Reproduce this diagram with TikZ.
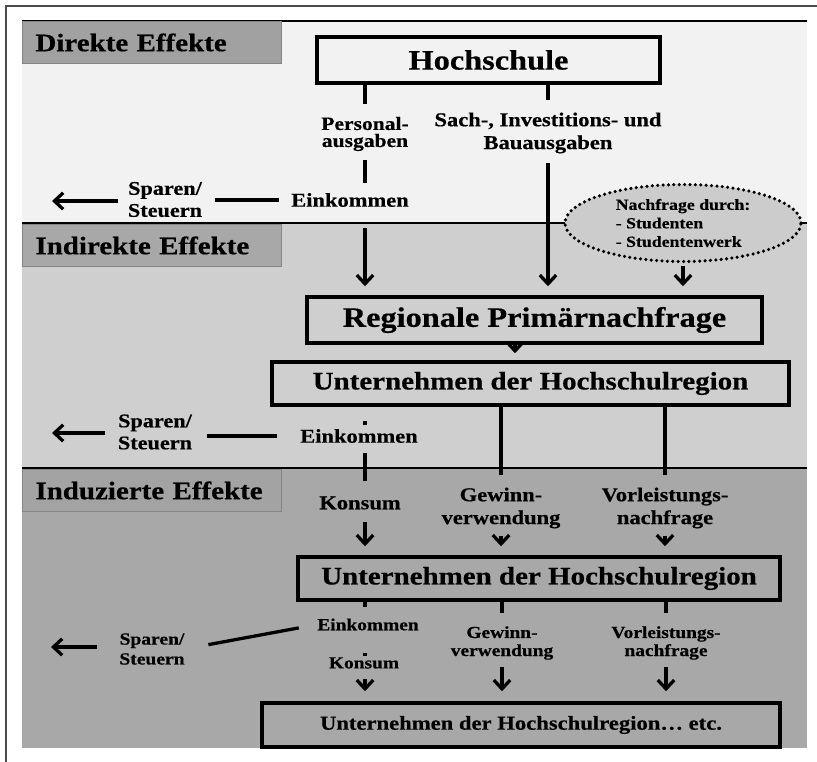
\documentclass[tikz,border=0pt]{standalone}
\usepackage{fontspec}
\setmainfont{Liberation Serif}[FakeStretch=1.15,BoldFeatures={FakeBold=0.5}]
\usetikzlibrary{arrows.meta,shapes.geometric}
\definecolor{bgdir}{gray}{0.95}
\definecolor{bgind}{gray}{0.81}
\definecolor{bginz}{gray}{0.66}
\definecolor{ttdir}{gray}{0.63}
\definecolor{ttind}{gray}{0.66}
\definecolor{ttinz}{gray}{0.64}
\definecolor{ttline}{gray}{0.52}
\definecolor{ellfill}{gray}{0.8}
\definecolor{frame}{gray}{0.3}
\begin{document}
\begin{tikzpicture}[x=0.03cm,y=-0.03cm,
    every node/.style={font=\bfseries},
    box/.style={draw,line width=3pt,inner sep=0pt},
    title/.style={anchor=north west,draw=ttline,line width=0.8pt,minimum width=7.77cm,
        minimum height=1.26cm,text width=6.99cm,inner xsep=0.39cm,inner ysep=0pt,align=left,
        font=\fontsize{21.5}{21.5}\selectfont\bfseries},
    lab/.style={inner sep=0pt,align=center,font=\fontsize{16.7}{19.5}\selectfont\bfseries},
    labs/.style={inner sep=0pt,align=center,font=\fontsize{14.4}{15.4}\selectfont\bfseries},
    con/.style={line width=2.8pt},
    arr/.style={con,-{Straight Barb[length=7.5pt,width=14pt]}}]

    \useasboundingbox (0,0) rectangle (817,762);

    %3 bands
    \fill[bgdir] (22,21) rectangle (807,223);
    \fill[bgind] (22,223) rectangle (807,468);
    \fill[bginz] (22,468) rectangle (807,748);
    \draw[line width=1.6pt] (22,21) -- (807,21);
    \draw[line width=1.3pt] (22,223) -- (807,223);
    \draw[line width=1.3pt] (22,468) -- (807,468);
    \draw[frame,line width=1pt] (6,762) -- (6,6) -- (817,6);

    \node[title,fill=ttdir] (tdir) at (22,21) {Direkte Effekte};
    \node[title,fill=ttind] (tind) at (22,224) {Indirekte Effekte};
    \node[title,fill=ttinz] (tinz) at (22,469) {Induzierte Effekte};

    %boxes
    \node[box,minimum width=10.29cm,minimum height=1.38cm,font=\fontsize{24}{24}\selectfont\bfseries] (hs) at (488.5,60) {Hochschule};
    \node[box,minimum width=13.65cm,minimum height=1.38cm,font=\fontsize{24}{24}\selectfont\bfseries] (rp) at (534.5,320) {Regionale Primärnachfrage};
    \node[box,minimum width=15.51cm,minimum height=1.29cm,font=\fontsize{21.5}{21.5}\selectfont\bfseries] (u1) at (530.5,383.5) {Unternehmen der Hochschulregion};
    \node[box,minimum width=14.46cm,minimum height=1.29cm,font=\fontsize{21.5}{21.5}\selectfont\bfseries] (u2) at (539,578.5) {Unternehmen der Hochschulregion};
    \node[box,minimum width=15.54cm,minimum height=1.32cm,font=\fontsize{16.8}{16.8}\selectfont\bfseries] (bt) at (521,725) {Unternehmen der Hochschulregion… etc.};

    %labels
    \node[lab,font=\fontsize{16}{14.5}\selectfont\bfseries] (pa) at (365,134) {Personal-\\ausgaben};
    \node[lab] (sa) at (548,133) {Sach-, Investitions- und\\Bauausgaben};
    \node[lab] (ek1) at (350,200) {Einkommen};
    \node[lab,font=\fontsize{16.5}{18.8}\selectfont\bfseries] (sp1) at (165,199.5) {Sparen/\\Steuern};
    \node[ellipse,draw,fill=ellfill,line width=3pt,line cap=round,dash pattern=on 0pt off 4.6pt,
        minimum width=7.08cm,minimum height=2.31cm,inner sep=0pt,align=left,
        font=\fontsize{13.2}{15.8}\selectfont\bfseries] (el) at (683,223) {Nachfrage durch:\\- Studenten\\- Studentenwerk};

    \node[lab] (ek2) at (359,436) {Einkommen};
    \node[lab,font=\fontsize{16.5}{18.8}\selectfont\bfseries] (sp2) at (155,432) {Sparen/\\Steuern};
    \node[lab] (ko1) at (360,503) {Konsum};
    \node[lab] (gw1) at (501,508) {Gewinn-\\verwendung};
    \node[lab] (vl1) at (665,508) {Vorleistungs-\\nachfrage};

    \node[labs] (ek3) at (368,624.5) {Einkommen};
    \node[labs,font=\fontsize{14.5}{17}\selectfont\bfseries] (sp3) at (152,649) {Sparen/\\Steuern};
    \node[labs] (ko2) at (364,663) {Konsum};
    \node[labs] (gw2) at (502,643) {Gewinn-\\verwendung};
    \node[labs] (vl2) at (666,643) {Vorleistungs-\\nachfrage};

    \coordinate (l1) at (52,201);
    \coordinate (l2) at (52,433);
    \coordinate (l3) at (51,647);

    %connectors
    \draw[con,shorten >=0.39cm] (hs.south -| pa) -- (pa);
    \draw[con,shorten <=0.27cm,shorten >=0.3cm] (pa) -- (pa |- ek1.north);
    \draw[arr,shorten <=0.63cm,shorten >=0.27cm] (pa |- ek1.south) -- (pa |- rp.north);
    \draw[con,shorten >=0.36cm] (hs.south -| sa) -- (sa);
    \draw[arr,shorten <=0.27cm,shorten >=0.27cm] (sa) -- (sa |- rp.north);
    \draw[arr,shorten <=0.09cm,shorten >=0.27cm] (el) -- (el |- rp.north);
    \draw[con,shorten <=0.35cm,shorten >=0.38cm] (ek1.west) -- (ek1.west -| sp1.east);
    \draw[arr,shorten <=0.3cm] (sp1.west |- l1) -- (l1);

    \draw[arr,shorten >=0.21cm] ([xshift=-0.585cm]rp.south) -- ([xshift=-0.585cm]rp.south |- u1.north);
    \draw[con,shorten <=0.42cm,shorten >=0.12cm] (u1.south -| pa) -- (pa |- ek2.north);
    \draw[con,shorten <=0.3cm,shorten >=0.45cm] (pa |- ek2.south) -- (pa |- ko1.north);
    \draw[arr,shorten <=0.36cm,shorten >=0.27cm] (pa |- ko1.south) -- (pa |- u2.north);
    \draw[con,shorten <=0.7cm,shorten >=0.44cm] (ek2.west) -- (ek2.west -| sp2.east);
    \draw[arr,shorten <=0.38cm] (sp2.west |- l2) -- (l2);
    \draw[con,shorten >=0.38cm] (u1.south -| gw1) -- (gw1);
    \draw[arr,shorten <=0.21cm,shorten >=0.27cm] (gw1) -- (gw1 |- u2.north);
    \draw[con,shorten >=0.38cm] (u1.south -| vl1) -- (vl1);
    \draw[arr,shorten <=0.21cm,shorten >=0.27cm] (vl1) -- (vl1 |- u2.north);

    \draw[con,shorten >=0.35cm] (u2.south -| pa) -- (pa |- ek3.north);
    \draw[con,shorten <=0.66cm,shorten >=0.03cm] (pa |- ek3.south) -- (pa |- ko2.north);
    \draw[arr,shorten <=0.3cm,shorten >=0.3cm] (pa |- ko2.south) -- (pa |- bt.north);
    \draw[con,shorten <=0.56cm,shorten >=0.72cm] (ek3.west) -- (sp3.east);
    \draw[arr,shorten <=0.67cm] (sp3.west |- l3) -- (l3);
    \draw[con,shorten >=0.4cm] (u2.south -| gw2) -- (gw2);
    \draw[arr,shorten <=0.22cm,shorten >=0.3cm] (gw2) -- (gw2 |- bt.north);
    \draw[con,shorten >=0.4cm] (u2.south -| vl2) -- (vl2);
    \draw[arr,shorten <=0.22cm,shorten >=0.3cm] (vl2) -- (vl2 |- bt.north);

\end{tikzpicture}
\end{document}
